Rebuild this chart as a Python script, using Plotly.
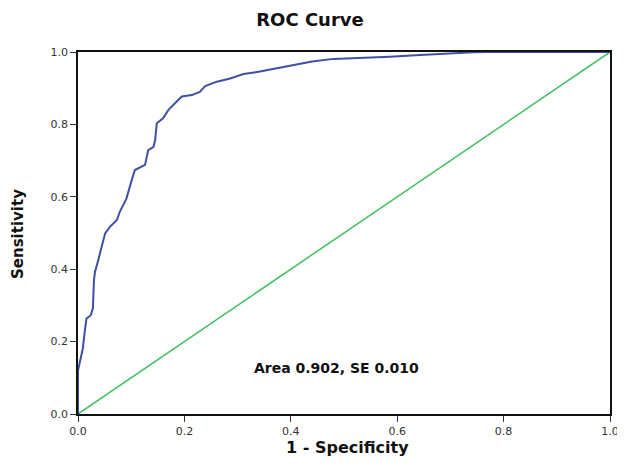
import plotly.graph_objects as go

# ROC curve points
fpr = [0, 0, 0.003, 0.007, 0.009, 0.013, 0.016, 0.024, 0.028, 0.030, 0.032, 0.038,
       0.045, 0.051, 0.060, 0.073, 0.079, 0.091, 0.101, 0.107, 0.126, 0.132, 0.142,
       0.145, 0.148, 0.160, 0.170, 0.182, 0.195, 0.214, 0.229, 0.239, 0.261, 0.286,
       0.311, 0.342, 0.373, 0.411, 0.440, 0.480, 0.530, 0.586, 0.643, 0.693, 0.743,
       0.770, 1.0]
tpr = [0, 0.12, 0.14, 0.168, 0.181, 0.232, 0.264, 0.273, 0.292, 0.370, 0.393, 0.425,
       0.467, 0.499, 0.517, 0.536, 0.56, 0.595, 0.646, 0.674, 0.688, 0.729, 0.738,
       0.757, 0.803, 0.817, 0.840, 0.858, 0.877, 0.881, 0.890, 0.906, 0.918, 0.927,
       0.939, 0.946, 0.955, 0.967, 0.974, 0.981, 0.983, 0.987, 0.992, 0.996, 0.999,
       1.0, 1.0]

ref_x = [0, 1]
ref_y = [0, 1]

tick_vals = [0.0, 0.2, 0.4, 0.6, 0.8, 1.0]
tick_text = ["0.0", "0.2", "0.4", "0.6", "0.8", "1.0"]

area_text = "Area 0.902, SE 0.010"
area_pos = (0.485, 0.127)

FONT = "DejaVu Sans, Verdana, sans-serif"

fig = go.Figure()
fig.add_trace(go.Scatter(x=ref_x, y=ref_y, mode="lines",
                         line=dict(color="#3fbf5f", width=1.5), showlegend=False))
fig.add_trace(go.Scatter(x=fpr, y=tpr, mode="lines",
                         line=dict(color="#3f4fa4", width=2), showlegend=False))

fig.add_annotation(x=area_pos[0], y=area_pos[1], xref="x", yref="y",
                   text="<b>" + area_text + "</b>", showarrow=False,
                   font=dict(family=FONT, size=14, color="#111"))

# axis titles placed as annotations (paper coords)
fig.add_annotation(x=0.506, y=-0.0939, xref="paper", yref="paper",
                   text="<b>1 - Specificity</b>", showarrow=False,
                   xanchor="center", yanchor="middle",
                   font=dict(family=FONT, size=16, color="#111"))
fig.add_annotation(x=-0.113, y=0.497, xref="paper", yref="paper",
                   text="<b>Sensitivity</b>", showarrow=False, textangle=-90,
                   xanchor="center", yanchor="middle",
                   font=dict(family=FONT, size=15, color="#111"))

axis_common = dict(
    range=[0, 1], tickvals=tick_vals, ticktext=tick_text,
    showgrid=False, zeroline=False,
    showline=True, linecolor="#111", linewidth=1.5, mirror=True,
    ticks="outside", ticklen=6, tickwidth=1.2, tickcolor="#333",
    tickfont=dict(family=FONT, size=11, color="#333"),
    automargin=False,
)

# page body adds an 8px margin, so the figure is sized to fit the window
fig.update_layout(
    width=617, height=450,
    margin=dict(l=70, r=15, t=44, b=44),
    paper_bgcolor="white", plot_bgcolor="white",
    title=dict(text="<b>ROC Curve</b>", x=302 / 617, xref="container", xanchor="center",
               y=1 - 12 / 450, yref="container", yanchor="middle",
               font=dict(family=FONT, size=18, color="#111")),
    xaxis=axis_common,
    yaxis=axis_common,
)

fig.write_html("out.html")
